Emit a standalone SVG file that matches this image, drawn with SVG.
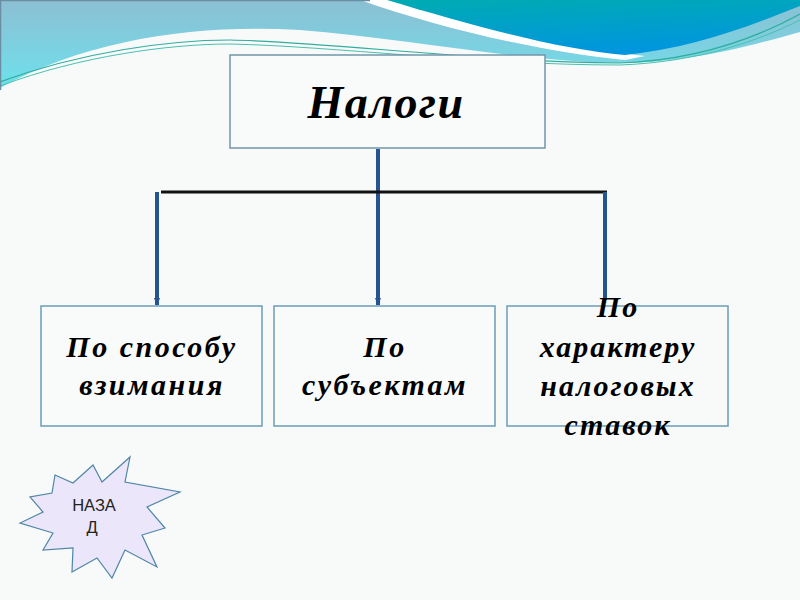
<svg xmlns="http://www.w3.org/2000/svg" width="800" height="600" viewBox="0 0 800 600">
  <defs>
    <linearGradient id="bandGrad" x1="0" y1="0" x2="0" y2="1">
      <stop offset="0" stop-color="#8cbfd3"/>
      <stop offset="1" stop-color="#6ee0ec"/>
    </linearGradient>
    <linearGradient id="tealGrad" x1="0" y1="0" x2="0.3" y2="1">
      <stop offset="0" stop-color="#00abb2"/>
      <stop offset="1" stop-color="#0096de"/>
    </linearGradient>
    <marker id="arrow" markerWidth="8" markerHeight="6" refX="7" refY="3" orient="auto" markerUnits="userSpaceOnUse">
      <path d="M0,0 L8,3 L0,6 Z" fill="#24558f"/>
    </marker>
    <style>
      .box { fill: #f9fafa; stroke: #6a9db6; stroke-width: 1.5; }
      .lbl { font-family: "Liberation Serif", "Times New Roman", serif; font-weight: bold; font-style: italic; fill: #000; text-anchor: middle; }
      .conn { stroke: #24558f; stroke-width: 4; fill: none; }
      .bar { stroke: #111; stroke-width: 3; fill: none; }
    </style>
  </defs>

  <!-- background -->
  <rect x="0" y="0" width="800" height="600" fill="#f8f9f9"/>
  <path d="M0,0 H800 V32 C730,52 680,62 625,63 C520,62 420,40 300,30 C200,24 90,38 0,88 Z" fill="url(#bandGrad)"/>
  <path d="M360,0 C440,28 540,52 625,60 L645,56 C560,46 470,24 392,0 Z" fill="#ffffff"/>
  <path d="M387,0 H800 V6 C740,30 690,48 625,55 C560,50 470,25 387,0 Z" fill="url(#tealGrad)"/>
  <path d="M0,82 C80,52 170,40 230,40 C330,42 480,62 620,63 C700,60 760,36 800,14" fill="none" stroke="#2fae9e" stroke-width="1.2"/>
  <path d="M0,86 C80,56 170,44 230,44 C330,46 480,65 620,65 C700,62 760,40 800,20" fill="none" stroke="#49c0b0" stroke-width="1"/>
  <path d="M0,0.5 H370 M0.5,0 V90" stroke="#6a8da2" stroke-width="1.5" fill="none"/>

  <!-- connectors -->
  <g id="connectors">
    <line class="conn" x1="378" y1="149" x2="378" y2="305" marker-end="url(#arrow)"/>
    <line class="bar" x1="161" y1="192" x2="607" y2="192"/>
    <line class="conn" x1="157" y1="192" x2="157" y2="305" marker-end="url(#arrow)"/>
    <line class="conn" x1="605" y1="192" x2="605" y2="300"/>
  </g>

  <g id="node-nalogi">
    <rect class="box" x="230" y="55" width="315" height="93" style="stroke:#7295a8"/>
    <text class="lbl" x="386" y="118" font-size="46" letter-spacing="1.5">Налоги</text>
  </g>

  <g id="node-sposob">
    <rect class="box" x="41" y="306" width="221" height="120"/>
    <text class="lbl" x="152" y="357" font-size="30" letter-spacing="2.5">По способу</text>
    <text class="lbl" x="152" y="395" font-size="30" letter-spacing="2.5">взимания</text>
  </g>

  <g id="node-subject">
    <rect class="box" x="274" y="306" width="221" height="120"/>
    <text class="lbl" x="385" y="357" font-size="30" letter-spacing="2.5">По</text>
    <text class="lbl" x="385" y="395" font-size="30" letter-spacing="2.5">субъектам</text>
  </g>

  <g id="node-harakter">
    <rect class="box" x="507" y="306" width="221" height="120" style="fill:none"/>
    <text class="lbl" x="618" y="317" font-size="30" letter-spacing="2">По</text>
    <text class="lbl" x="618" y="357" font-size="30" letter-spacing="2">характеру</text>
    <text class="lbl" x="618" y="396" font-size="30" letter-spacing="2">налоговых</text>
    <text class="lbl" x="618" y="435" font-size="30" letter-spacing="2">ставок</text>
  </g>

  <g id="node-back">
    <polygon points="55,475 73,483 93,465 102,482 130,457 125,482 180,492 147,507 165,528 142,535 157,567 125,550 112,578 97,558 72,572 73,548 43,550 53,533 20,523 43,512 30,497 52,493" fill="#ece6fa" stroke="#4f86a6" stroke-width="1.2" stroke-linejoin="miter"/>
    <text x="94" y="511" font-family="Liberation Sans, Arial, sans-serif" font-size="16.5" fill="#222" text-anchor="middle">НАЗА</text>
    <text x="92" y="533" font-family="Liberation Sans, Arial, sans-serif" font-size="16.5" fill="#222" text-anchor="middle">Д</text>
  </g>
</svg>
